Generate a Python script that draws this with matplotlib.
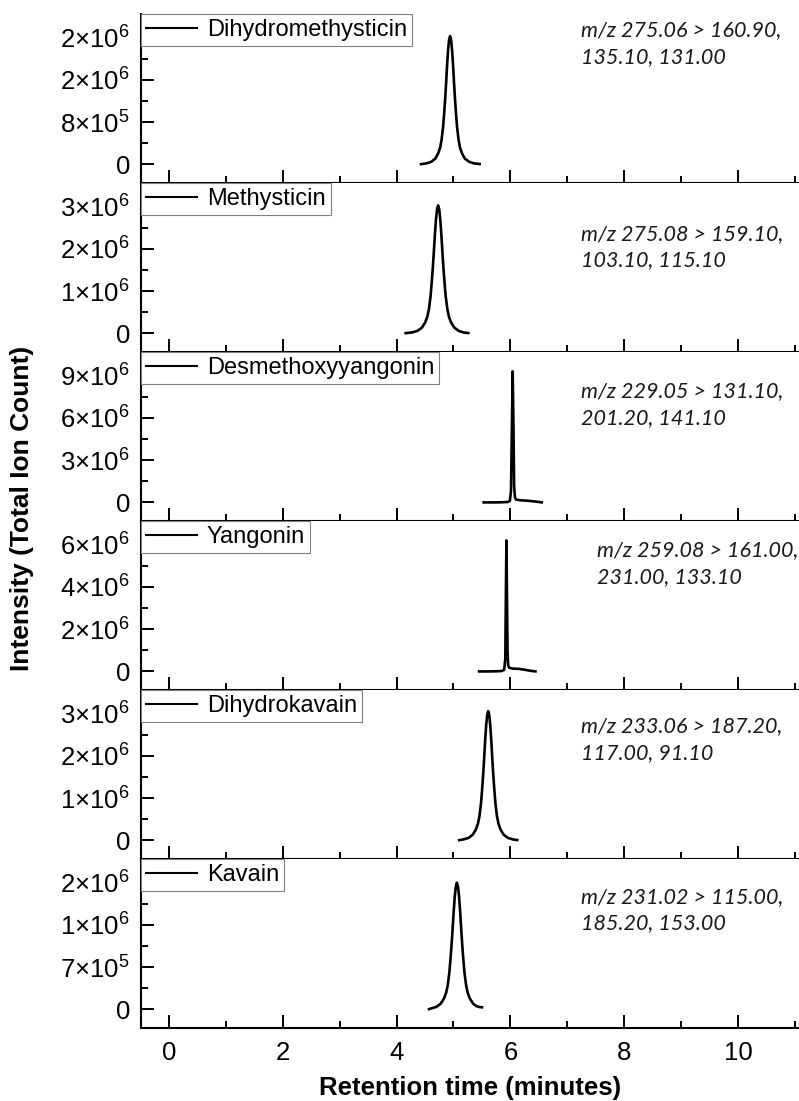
import matplotlib
matplotlib.use("Agg")
import matplotlib.pyplot as plt
import numpy as np
from matplotlib.ticker import FixedLocator

plt.rcParams['font.family'] = ['Liberation Sans', 'DejaVu Sans']
plt.rcParams['mathtext.fontset'] = 'custom'
plt.rcParams['mathtext.rm'] = 'Liberation Sans'
plt.rcParams['mathtext.default'] = 'regular'

# compounds, top to bottom
compounds = ["Dihydromethysticin", "Methysticin", "Desmethoxyyangonin",
             "Yangonin", "Dihydrokavain", "Kavain"]

transitions = ["m/z 275.06 > 160.90,\n135.10, 131.00",
               "m/z 275.08 > 159.10,\n103.10, 115.10",
               "m/z 229.05 > 131.10,\n201.20, 141.10",
               "m/z 259.08 > 161.00,\n231.00, 133.10",
               "m/z 233.06 > 187.20,\n117.00, 91.10",
               "m/z 231.02 > 115.00,\n185.20, 153.00"]

# retention time (min) and intensity (x 1e6)
time_dhm = [4.43, 4.52, 4.61, 4.68, 4.73, 4.765, 4.79, 4.817, 4.835, 4.852, 4.87, 4.887, 4.905, 4.922, 4.94,
            4.958, 4.975, 4.993, 5.01, 5.028, 5.045, 5.063, 5.09, 5.115, 5.15, 5.2, 5.275, 5.36, 5.46]
int_dhm = [0.005, 0.019, 0.049, 0.109, 0.207, 0.316, 0.462, 0.705, 0.948, 1.215, 1.531, 1.871, 2.163, 2.357, 2.43,
           2.357, 2.163, 1.871, 1.531, 1.215, 0.948, 0.705, 0.462, 0.316, 0.207, 0.109, 0.049, 0.019, 0.007]

time_met = [4.16, 4.274, 4.369, 4.445, 4.502, 4.54, 4.569, 4.597, 4.616, 4.635, 4.654, 4.673, 4.692, 4.711, 4.73,
            4.749, 4.768, 4.787, 4.806, 4.825, 4.844, 4.863, 4.892, 4.92, 4.958, 5.015, 5.09, 5.17, 5.26]
int_met = [0.006, 0.024, 0.061, 0.136, 0.258, 0.394, 0.576, 0.879, 1.182, 1.515, 1.909, 2.333, 2.697, 2.939, 3.03,
           2.939, 2.697, 2.333, 1.909, 1.515, 1.182, 0.879, 0.576, 0.394, 0.258, 0.136, 0.061, 0.024, 0.009]

time_dmy = [5.53, 5.7, 5.85, 5.95, 5.99, 6.01, 6.025, 6.04, 6.055, 6.065, 6.08, 6.10, 6.18, 6.3, 6.42, 6.5, 6.55]
int_dmy = [0.0, 0.0, 0.01, 0.03, 0.1, 0.8, 5.0, 9.3, 5.0, 1.2, 0.35, 0.2, 0.15, 0.12, 0.07, 0.03, 0.0]

time_yan = [5.45, 5.6, 5.75, 5.85, 5.89, 5.91, 5.92, 5.93, 5.94, 5.95, 5.96, 5.98, 6.05, 6.15, 6.25, 6.35, 6.44]
int_yan = [0.0, 0.0, 0.005, 0.02, 0.08, 0.6, 3.5, 6.2, 3.5, 0.9, 0.3, 0.17, 0.13, 0.12, 0.08, 0.03, 0.0]

time_dhk = [5.10, 5.178, 5.268, 5.34, 5.394, 5.43, 5.457, 5.484, 5.502, 5.52, 5.538, 5.556, 5.574, 5.592, 5.61,
            5.628, 5.646, 5.664, 5.682, 5.70, 5.718, 5.736, 5.763, 5.79, 5.826, 5.88, 5.952, 6.042, 6.12]
int_dhk = [0.006, 0.024, 0.061, 0.138, 0.260, 0.398, 0.581, 0.887, 1.193, 1.53, 1.928, 2.356, 2.723, 2.968, 3.06,
           2.968, 2.723, 2.356, 1.928, 1.53, 1.193, 0.887, 0.581, 0.398, 0.260, 0.138, 0.061, 0.024, 0.009]

time_kav = [4.57, 4.61, 4.70, 4.775, 4.832, 4.87, 4.899, 4.927, 4.946, 4.965, 4.984, 5.003, 5.022, 5.041, 5.06,
            5.079, 5.098, 5.117, 5.136, 5.155, 5.174, 5.193, 5.222, 5.25, 5.288, 5.345, 5.40, 5.45, 5.50]
int_kav = [0.004, 0.017, 0.042, 0.095, 0.179, 0.273, 0.399, 0.609, 0.819, 1.05, 1.323, 1.617, 1.869, 2.037, 2.10,
           2.037, 1.869, 1.617, 1.323, 1.05, 0.819, 0.609, 0.399, 0.273, 0.179, 0.095, 0.055, 0.04, 0.035]

times = [time_dhm, time_met, time_dmy, time_yan, time_dhk, time_kav]
intensities = [int_dhm, int_met, int_dmy, int_yan, int_dhk, int_kav]

# y tick step per panel and the labels as printed on the original
tick_steps = [8e5, 1e6, 3e6, 2e6, 1e6, 7e5]
ytick_labels = [
    ['0', r'$8{\times}10^{5}$', r'$2{\times}10^{6}$', r'$2{\times}10^{6}$'],
    ['0', r'$1{\times}10^{6}$', r'$2{\times}10^{6}$', r'$3{\times}10^{6}$'],
    ['0', r'$3{\times}10^{6}$', r'$6{\times}10^{6}$', r'$9{\times}10^{6}$'],
    ['0', r'$2{\times}10^{6}$', r'$4{\times}10^{6}$', r'$6{\times}10^{6}$'],
    ['0', r'$1{\times}10^{6}$', r'$2{\times}10^{6}$', r'$3{\times}10^{6}$'],
    ['0', r'$7{\times}10^{5}$', r'$1{\times}10^{6}$', r'$2{\times}10^{6}$'],
]
note_x = [0.669, 0.669, 0.669, 0.693, 0.669, 0.669]
note_y = [0.825, 0.621, 0.689, 0.749, 0.707, 0.698]

W, H = 799, 1101
fig = plt.figure(figsize=(W / 100, H / 100), dpi=100)

left_px, top_px, panel_px = 141, 14, 169
for i, name in enumerate(compounds):
    top = top_px + panel_px * i
    ax = fig.add_axes([left_px / W, (H - top - panel_px) / H, (W - left_px) / W, panel_px / H])
    ax.plot(times[i], np.array(intensities[i]) * 1e6, color='black', lw=1.9, label=name)

    step = tick_steps[i]
    ax.set_xlim(-0.49, 11.07)
    ax.set_ylim(-0.44 * step, 3.56 * step)
    ax.yaxis.set_major_locator(FixedLocator([0, step, 2 * step, 3 * step]))
    ax.yaxis.set_minor_locator(FixedLocator([0.5 * step, 1.5 * step, 2.5 * step, 3.5 * step]))
    ax.set_yticklabels(ytick_labels[i])
    ax.xaxis.set_major_locator(FixedLocator([0, 2, 4, 6, 8, 10]))
    ax.xaxis.set_minor_locator(FixedLocator([1, 3, 5, 7, 9, 11]))

    for s in ['top', 'right']:
        ax.spines[s].set_visible(False)
    for s in ['left', 'bottom']:
        ax.spines[s].set_linewidth(1.5)

    ax.tick_params(which='both', direction='in', width=1.4, labelsize=18.5)
    ax.tick_params(which='major', length=9.4)
    ax.tick_params(which='minor', length=5)
    ax.tick_params(axis='y', pad=8)
    ax.tick_params(axis='x', pad=9)
    if i < len(compounds) - 1:
        ax.tick_params(axis='x', labelbottom=False)

    leg = ax.legend(loc='upper left', bbox_to_anchor=(0, 1), borderaxespad=0, fontsize=17,
                    fancybox=False, edgecolor='#808080', framealpha=1, borderpad=0.22,
                    handlelength=2.15, handletextpad=0.42)
    leg.get_frame().set_linewidth(0.8)
    for ln in leg.get_lines():
        ln.set_linewidth(1.5)

    ax.text(note_x[i], note_y[i], transitions[i], transform=ax.transAxes, va='center', ha='left',
            fontsize=15.5, family='Lato', style='italic', color='#1a1a1a', linespacing=1.4)

fig.text(22 / W, (H - 508) / H, 'Intensity (Total Ion Count)', rotation=90, ha='center', va='center',
         fontsize=19, fontweight='bold')
fig.text(470 / W, (H - 1088) / H, 'Retention time (minutes)', ha='center', va='center',
         fontsize=18.5, fontweight='bold')

fig.savefig('out.png', dpi=100)
